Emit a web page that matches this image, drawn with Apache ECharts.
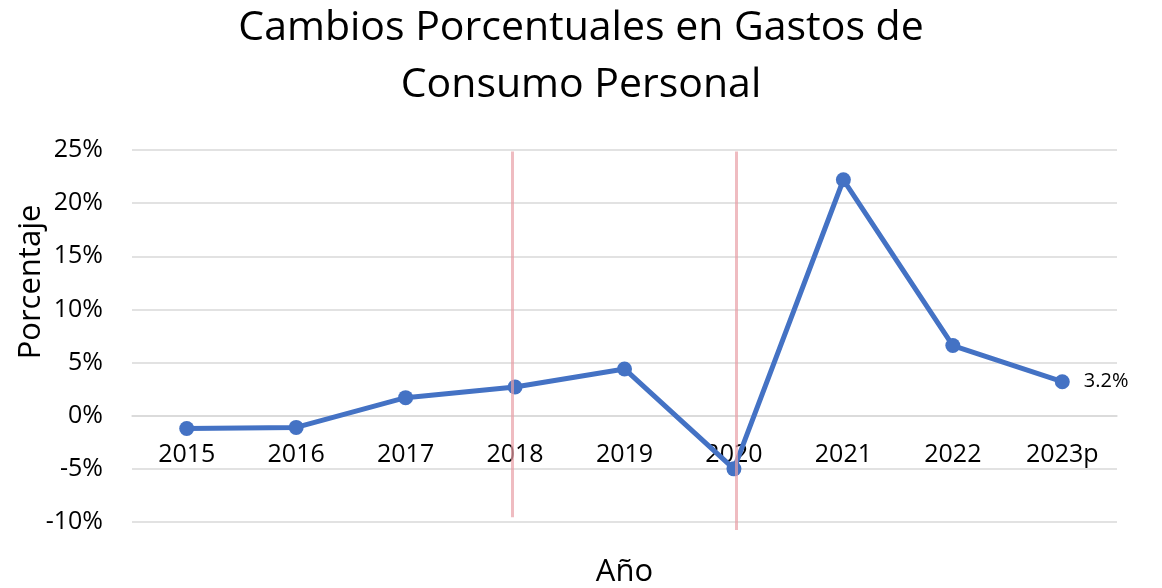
<!DOCTYPE html>
<html>
<head>
<meta charset="utf-8">
<script src="https://cdn.jsdelivr.net/npm/echarts@6/dist/echarts.min.js"></script>
<style>
html, body { margin: 0; padding: 0; background: #fff; }
#chart { width: 1162px; height: 588px; }
</style>
</head>
<body>
<div id="chart"></div>
<script>
// datos
var years = ['2015', '2016', '2017', '2018', '2019', '2020', '2021', '2022', '2023p'];
var cambios = [-1.2, -1.1, 1.7, 2.7, 4.4, -5.0, 22.2, 6.6, 3.2];
var yTicks = [-10, -5, 0, 5, 10, 15, 20, 25];
// lineas rojas: [posicion x continua, inicio %, fin %]
var marcas = [[3.47, 24.85, -9.55], [5.52, 24.85, -10.75]];

var chart = echarts.init(document.getElementById('chart'));
var font = '"Open Sans", sans-serif';
var plotH = 588 - 150 - 66;
var yMin = yTicks[0], yMax = yTicks[yTicks.length - 1];
// el eje x va sobre el 0%
var zeroOffset = -plotH * (0 - yMin) / (yMax - yMin);

var option = {
    title: {
        text: 'Cambios Porcentuales en Gastos de\nConsumo Personal',
        left: 'center',
        top: -5,
        padding: [5, 5, 5, 17],
        textStyle: { fontFamily: font, fontSize: 41, fontWeight: 'normal', color: '#000', lineHeight: 57 }
    },
    grid: [
        { left: 132, right: 45, top: 150, height: plotH, outerBoundsMode: 'none' },
        // mismo ancho y escala, un poco mas alto para las lineas rojas
        { left: 132, right: 45, top: 150, height: plotH * 37 / 35, outerBoundsMode: 'none' }
    ],
    xAxis: [{
        type: 'category',
        gridIndex: 0,
        data: years,
        boundaryGap: true,
        offset: zeroOffset,
        axisLine: { show: true, onZero: false, lineStyle: { color: '#D9D9D9', width: 1.5 } },
        axisTick: { show: false },
        axisLabel: { margin: 27, fontSize: 25, color: '#000', fontFamily: font },
        name: 'Año',
        nameLocation: 'middle',
        nameGap: 141,
        nameMoveOverlap: false,
        nameTextStyle: { fontSize: 31, color: '#000', fontFamily: font }
    }, {
        type: 'value',
        gridIndex: 1,
        min: 0,
        max: 9,
        show: false
    }],
    yAxis: [{
        type: 'value',
        gridIndex: 0,
        min: yMin,
        max: yMax,
        interval: 5,
        axisLine: { show: false },
        axisTick: { show: false },
        splitLine: { lineStyle: { color: '#D9D9D9', width: 1.5 } },
        axisLabel: { formatter: '{value}%', fontSize: 25, color: '#000', margin: 29, fontFamily: font },
        name: 'Porcentaje',
        nameLocation: 'middle',
        nameGap: 85,
        nameMoveOverlap: false,
        nameTextStyle: { fontSize: 31, color: '#000', fontFamily: font, padding: [0, 0, 0, 108] }
    }, {
        type: 'value',
        gridIndex: 1,
        min: -12,
        max: 25,
        show: false
    }],
    series: [{
        type: 'line',
        data: cambios,
        symbol: 'circle',
        symbolSize: 15,
        lineStyle: { color: '#4472C4', width: 5 },
        itemStyle: { color: '#4472C4' },
        z: 3,
        label: {
            show: true,
            position: 'right',
            distance: 14,
            fontSize: 20,
            color: '#000',
            fontFamily: font,
            formatter: function (p) {
                return p.dataIndex === cambios.length - 1 ? p.value.toFixed(1) + '%' : '';
            }
        }
    }, {
        type: 'line',
        xAxisIndex: 1,
        yAxisIndex: 1,
        data: [],
        z: 4,
        markLine: {
            silent: true,
            symbol: 'none',
            label: { show: false },
            lineStyle: { color: '#E8A0A6', width: 3, type: 'solid', opacity: 0.7 },
            data: marcas.map(function (m) {
                return [{ coord: [m[0], m[1]] }, { coord: [m[0], m[2]] }];
            })
        }
    }]
};
chart.setOption(option);
</script>
</body>
</html>
